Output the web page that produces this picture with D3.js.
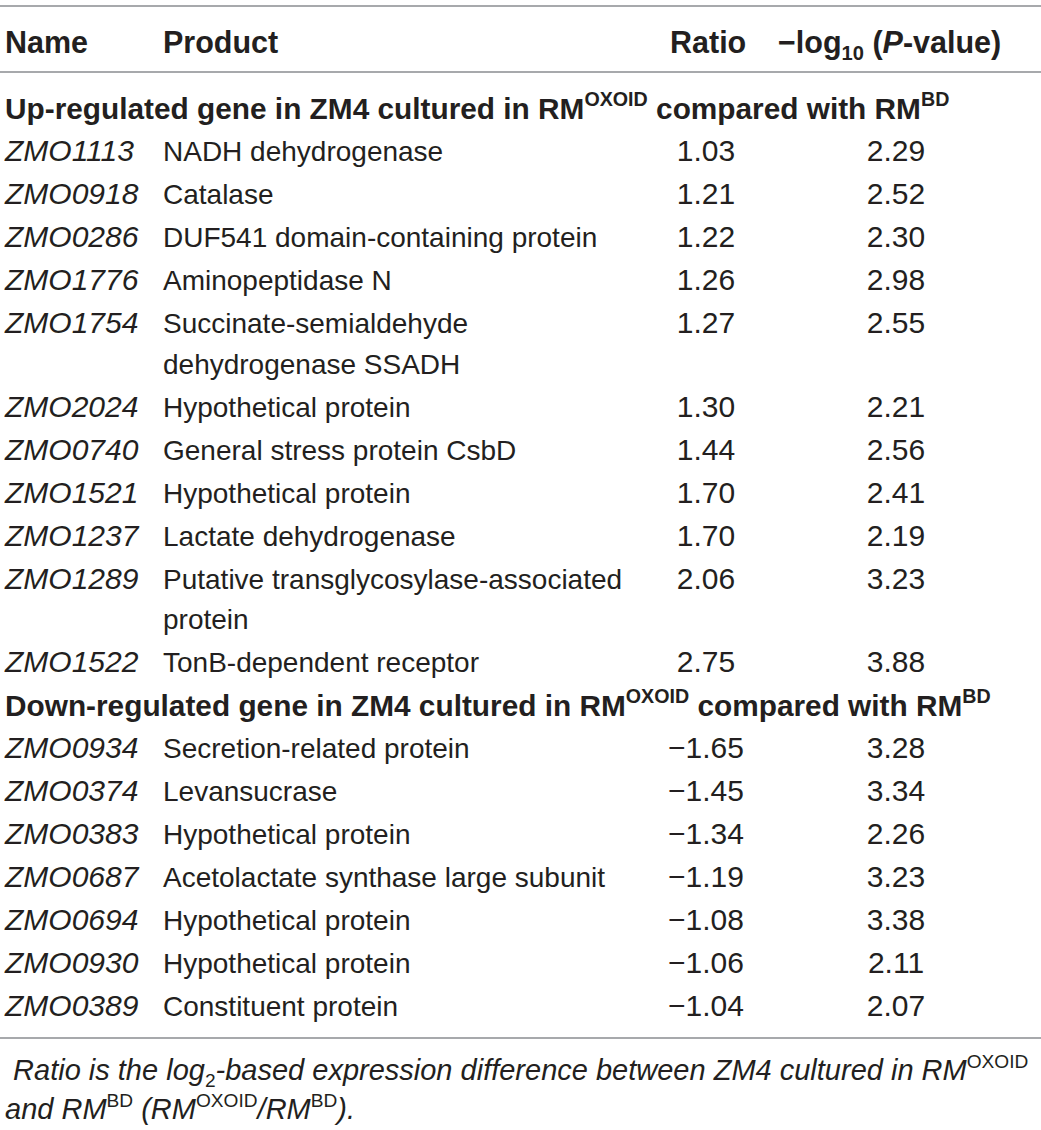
<!DOCTYPE html>
<html>
<head>
<meta charset="utf-8">
<script src="https://cdn.jsdelivr.net/npm/d3@7"></script>
<style>
  body { margin: 0; background: #fff; }
  text { font-family: "Liberation Sans", Arial, sans-serif; fill: #231f20; }
</style>
</head>
<body>
<svg width="1041" height="1130"></svg>
<script>
// table data
var upNames = ["ZMO1113", "ZMO0918", "ZMO0286", "ZMO1776", "ZMO1754", "ZMO2024",
               "ZMO0740", "ZMO1521", "ZMO1237", "ZMO1289", "ZMO1522"];
var upProducts = ["NADH dehydrogenase", "Catalase", "DUF541 domain-containing protein",
                  "Aminopeptidase N", "Succinate-semialdehyde\ndehydrogenase SSADH",
                  "Hypothetical protein", "General stress protein CsbD", "Hypothetical protein",
                  "Lactate dehydrogenase", "Putative transglycosylase-associated\nprotein",
                  "TonB-dependent receptor"];
var upRatio = [1.03, 1.21, 1.22, 1.26, 1.27, 1.30, 1.44, 1.70, 1.70, 2.06, 2.75];
var upLogP = [2.29, 2.52, 2.30, 2.98, 2.55, 2.21, 2.56, 2.41, 2.19, 3.23, 3.88];

var downNames = ["ZMO0934", "ZMO0374", "ZMO0383", "ZMO0687", "ZMO0694", "ZMO0930", "ZMO0389"];
var downProducts = ["Secretion-related protein", "Levansucrase", "Hypothetical protein",
                    "Acetolactate synthase large subunit", "Hypothetical protein",
                    "Hypothetical protein", "Constituent protein"];
var downRatio = [-1.65, -1.45, -1.34, -1.19, -1.08, -1.06, -1.04];
var downLogP = [3.28, 3.34, 2.26, 3.23, 3.38, 2.11, 2.07];

var columns = ["name", "product", "ratio", "logp"];

var svg = d3.select("svg");
var width = +svg.attr("width");
// font sizes per style (reference face is wider than Liberation in places)
var fsHead = 30.5, fsSection = 29.8, fsName = 30, fsText = 28, fsNum = 30, fsNote = 29;

// column positions
var colX = d3.scaleOrdinal().domain(columns).range([5, 163, 706, 896]);
var colSize = d3.scaleOrdinal().domain(columns).range([fsName, fsText, fsNum, fsNum]);
var fmt = d3.format(".2f");

// rich text helper: segments {t, it, sup, sub}
function rich(sel, segs, size) {
  var shift = 0;
  segs.forEach(function(s) {
    var ts = sel.append("tspan").text(s.t);
    var target = s.sup ? -0.42 * size : (s.sub ? 0.22 * size : 0);
    ts.attr("dy", target - shift);
    shift = target;
    if (s.sup || s.sub) ts.style("font-size", (0.66 * size) + "px").style("font-style", "normal");
    if (s.it) ts.style("font-style", "italic");
  });
}

// build line list
var items = [];
items.push({ kind: "section", segs: [{ t: "Up-regulated gene in ZM4 cultured in RM" }, { t: "OXOID", sup: true },
  { t: " compared with RM" }, { t: "BD", sup: true }] });
upNames.forEach(function(n, i) {
  items.push({ kind: "row", name: n, product: upProducts[i], ratio: upRatio[i], logp: upLogP[i] });
});
items.push({ kind: "section", segs: [{ t: "Down-regulated gene in ZM4 cultured in RM" }, { t: "OXOID", sup: true },
  { t: " compared with RM" }, { t: "BD", sup: true }] });
downNames.forEach(function(n, i) {
  items.push({ kind: "row", name: n, product: downProducts[i], ratio: downRatio[i], logp: downLogP[i] });
});

// vertical layout: row step 43, wrapped line step 40
var rowStep = 43, wrapStep = 40.5;
var yPos = 108;
items.forEach(function(d) {
  d.y = yPos;
  d.lines = d.kind === "row" ? d.product.split("\n") : [null];
  yPos += rowStep + (d.lines.length - 1) * wrapStep;
});

// rules
var rules = [6, 72, 1038];
svg.selectAll(".rule")
  .data(rules)
  .enter().append("line")
  .attr("class", "rule")
  .attr("x1", 0).attr("x2", width)
  .attr("y1", function(d) { return d; })
  .attr("y2", function(d) { return d; })
  .attr("stroke", "#a7a9ac")
  .attr("stroke-width", 2);

// header
var headers = [
  [{ t: "Name" }],
  [{ t: "Product" }],
  [{ t: "Ratio" }],
  [{ t: "\u2212log" }, { t: "10", sub: true }, { t: " (" }, { t: "P", it: true }, { t: "-value)" }]
];
var headX = [5, 163, 670, 778];
svg.selectAll(".head")
  .data(headers)
  .enter().append("text")
  .attr("class", "head")
  .attr("x", function(d, i) { return headX[i]; })
  .attr("y", 42 + 0.36 * fsHead)
  .style("font-size", fsHead + "px")
  .style("font-weight", "bold")
  .each(function(d) { rich(d3.select(this), d, fsHead); });

// sections
svg.selectAll(".section")
  .data(items.filter(function(d) { return d.kind === "section"; }))
  .enter().append("text")
  .attr("class", "section")
  .attr("x", 5)
  .attr("y", function(d) { return d.y + 0.36 * fsSection; })
  .style("font-size", fsSection + "px")
  .style("font-weight", "bold")
  .each(function(d) { rich(d3.select(this), d.segs, fsSection); });

// rows
var rows = svg.selectAll(".row")
  .data(items.filter(function(d) { return d.kind === "row"; }))
  .enter().append("g")
  .attr("class", "row")
  .attr("transform", function(d) { return "translate(0," + d.y + ")"; });

rows.append("text")
  .attr("x", colX("name"))
  .attr("y", 0.36 * fsText)
  .style("font-size", colSize("name") + "px")
  .style("font-style", "italic")
  .text(function(d) { return d.name; });

rows.append("text")
  .attr("x", colX("product"))
  .attr("y", 0.36 * fsText)
  .style("font-size", colSize("product") + "px")
  .each(function(d) {
    var t = d3.select(this);
    d.lines.forEach(function(l, k) {
      t.append("tspan").attr("x", colX("product")).attr("dy", k ? wrapStep : 0).text(l);
    });
  });

["ratio", "logp"].forEach(function(c) {
  rows.append("text")
    .attr("x", colX(c))
    .attr("y", 0.36 * fsText)
    .attr("text-anchor", "middle")
    .style("font-size", colSize(c) + "px")
    .text(function(d) { return fmt(d[c]); });
});

// footnote
var note1 = [{ t: " Ratio is the log" }, { t: "2", sub: true }, { t: "-based expression difference between ZM4 cultured in RM" },
  { t: "OXOID", sup: true }];
var note2 = [{ t: "and RM" }, { t: "BD", sup: true }, { t: " (RM" }, { t: "OXOID", sup: true }, { t: "/RM" }, { t: "BD", sup: true }, { t: ")." }];
svg.selectAll(".note")
  .data([note1, note2])
  .enter().append("text")
  .attr("class", "note")
  .attr("x", 5)
  .attr("y", function(d, i) { return 1070 + i * 39 + 0.36 * fsNote; })
  .style("font-size", fsNote + "px")
  .style("font-style", "italic")
  .style("white-space", "pre")
  .each(function(d) { rich(d3.select(this), d, fsNote); });
</script>
</body>
</html>
